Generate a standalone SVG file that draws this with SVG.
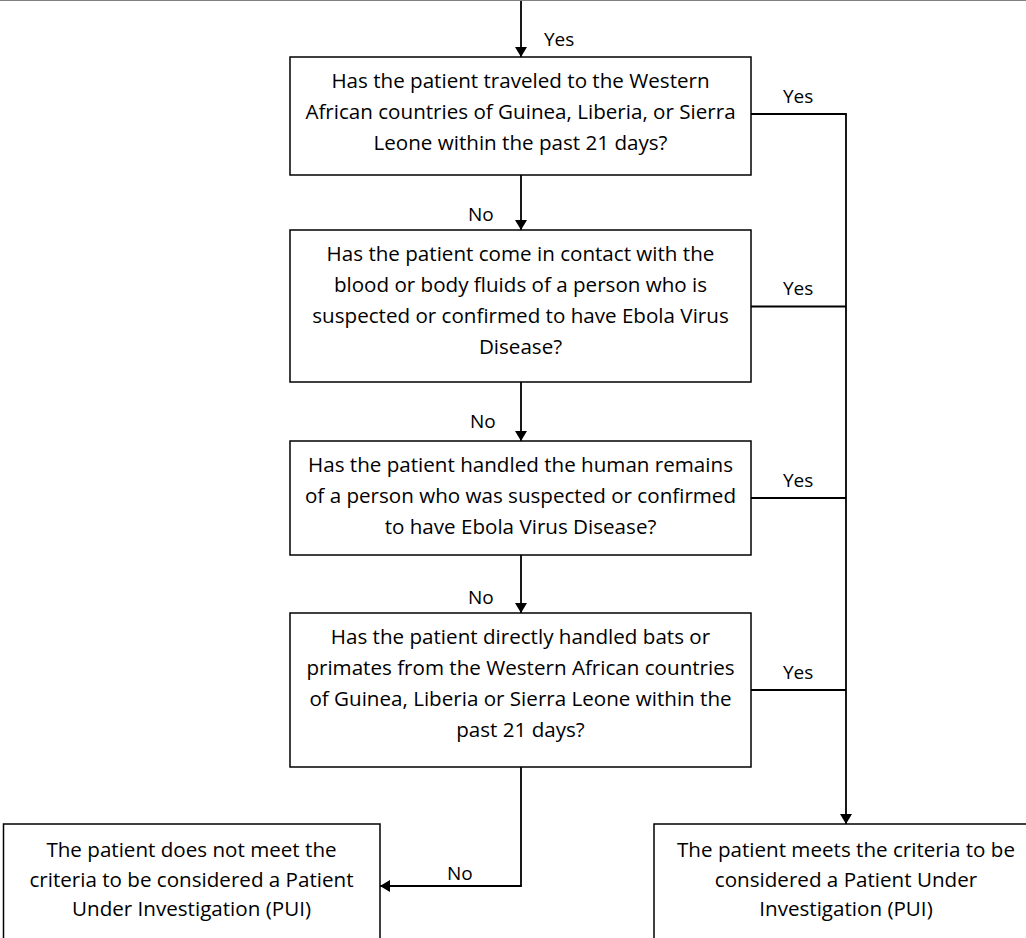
<svg xmlns="http://www.w3.org/2000/svg" width="1026" height="938" viewBox="0 0 1026 938">
<style>
.box{fill:#fff;stroke:#000;stroke-width:1.5}
.ln{fill:none;stroke:#000;stroke-width:1.8}
.t{font-family:"Open Sans","Liberation Sans",sans-serif;font-size:20.6px;fill:#000;text-anchor:middle}
.lb{font-family:"Open Sans","Liberation Sans",sans-serif;font-size:19px;fill:#000}
</style>
<defs>
<marker id="ah" markerUnits="userSpaceOnUse" markerWidth="10" markerHeight="12" viewBox="0 0 10 12" refX="10" refY="6" orient="auto">
<path d="M0,0 L10,6 L0,12 Z" fill="#000"/>
</marker>
</defs>
<rect width="1026" height="938" fill="#fff"/>
<line x1="0" y1="0.5" x2="1026" y2="0.5" stroke="#808080" stroke-width="1.2"/>
<g id="connectors">
<line class="ln" x1="521" y1="1" x2="521" y2="57" marker-end="url(#ah)"/>
<line class="ln" x1="521" y1="175" x2="521" y2="230" marker-end="url(#ah)"/>
<line class="ln" x1="521" y1="382" x2="521" y2="441" marker-end="url(#ah)"/>
<line class="ln" x1="521" y1="555" x2="521" y2="613" marker-end="url(#ah)"/>
<polyline class="ln" points="521,767 521,886 380,886" marker-end="url(#ah)"/>
<polyline class="ln" points="751,114 846,114 846,824" marker-end="url(#ah)"/>
<line class="ln" x1="751" y1="306.5" x2="846" y2="306.5"/>
<line class="ln" x1="751" y1="498" x2="846" y2="498"/>
<line class="ln" x1="751" y1="690" x2="846" y2="690"/>
<text class="lb" x="544" y="46">Yes</text>
<text class="lb" x="783" y="103">Yes</text>
<text class="lb" x="783" y="295">Yes</text>
<text class="lb" x="783" y="487">Yes</text>
<text class="lb" x="783" y="679">Yes</text>
<text class="lb" x="468" y="221">No</text>
<text class="lb" x="470" y="428">No</text>
<text class="lb" x="468" y="604">No</text>
<text class="lb" x="447" y="880">No</text>
</g>
<g id="q1">
<rect class="box" x="290" y="57" width="461" height="118"/>
<text class="t" x="520.5" y="88">Has the patient traveled to the Western</text>
<text class="t" x="520.5" y="119">African countries of Guinea, Liberia, or Sierra</text>
<text class="t" x="520.5" y="150">Leone within the past 21 days?</text>
</g>
<g id="q2">
<rect class="box" x="290" y="230" width="461" height="152"/>
<text class="t" x="520.5" y="261">Has the patient come in contact with the</text>
<text class="t" x="520.5" y="292">blood or body fluids of a person who is</text>
<text class="t" x="520.5" y="323">suspected or confirmed to have Ebola Virus</text>
<text class="t" x="520.5" y="354">Disease?</text>
</g>
<g id="q3">
<rect class="box" x="290" y="441" width="461" height="114"/>
<text class="t" x="520.5" y="472">Has the patient handled the human remains</text>
<text class="t" x="520.5" y="503">of a person who was suspected or confirmed</text>
<text class="t" x="520.5" y="534">to have Ebola Virus Disease?</text>
</g>
<g id="q4">
<rect class="box" x="290" y="613" width="461" height="154"/>
<text class="t" x="520.5" y="644">Has the patient directly handled bats or</text>
<text class="t" x="520.5" y="675">primates from the Western African countries</text>
<text class="t" x="520.5" y="706">of Guinea, Liberia or Sierra Leone within the</text>
<text class="t" x="520.5" y="737">past 21 days?</text>
</g>
<g id="notpui">
<rect class="box" x="3.5" y="824" width="376.5" height="130"/>
<text class="t" x="191.5" y="857">The patient does not meet the</text>
<text class="t" x="191.5" y="887">criteria to be considered a Patient</text>
<text class="t" x="191.5" y="916">Under Investigation (PUI)</text>
</g>
<g id="pui">
<rect class="box" x="654" y="824" width="400" height="130"/>
<text class="t" x="846" y="857">The patient meets the criteria to be</text>
<text class="t" x="846" y="887">considered a Patient Under</text>
<text class="t" x="846" y="916">Investigation (PUI)</text>
</g>
</svg>
